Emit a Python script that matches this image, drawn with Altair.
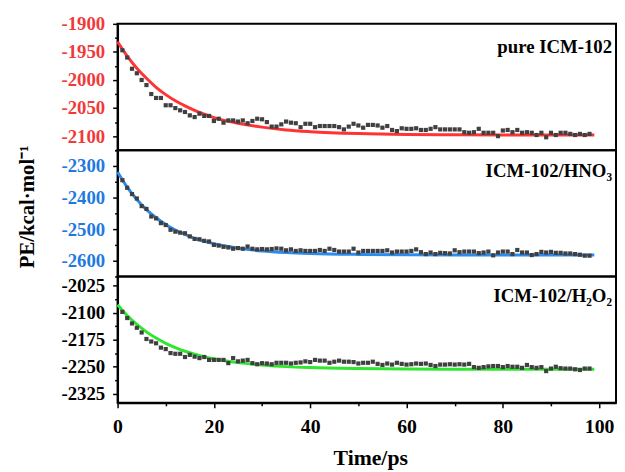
import altair as alt
import pandas as pd

# ---------------- data ----------------
time_ps = list(range(1, 99))

pe_pure = [-1947, -1960, -1980, -1988, -2000, -2009, -2025, -2032, -2032, -2045,
           -2045, -2050, -2054, -2057, -2063, -2066, -2060, -2064, -2064, -2073,
           -2069, -2076, -2072, -2072, -2074, -2072, -2077, -2073, -2069, -2070,
           -2075, -2083, -2083, -2079, -2074, -2076, -2077, -2084, -2078, -2078,
           -2084, -2082, -2082, -2082, -2082, -2084, -2088, -2083, -2078, -2081,
           -2085, -2080, -2080, -2081, -2085, -2082, -2089, -2091, -2086, -2087,
           -2087, -2086, -2089, -2089, -2087, -2084, -2088, -2088, -2088, -2088,
           -2088, -2093, -2094, -2093, -2087, -2094, -2094, -2094, -2100, -2090,
           -2089, -2093, -2089, -2094, -2093, -2094, -2098, -2094, -2102, -2094,
           -2098, -2094, -2094, -2096, -2098, -2096, -2098, -2096]

pe_hno3 = [-2345, -2369, -2389, -2403, -2427, -2436, -2460, -2466, -2481, -2487,
           -2502, -2508, -2511, -2513, -2523, -2531, -2532, -2537, -2539, -2550,
           -2552, -2556, -2558, -2562, -2560, -2562, -2555, -2562, -2564, -2563,
           -2564, -2563, -2561, -2562, -2567, -2564, -2569, -2567, -2569, -2569,
           -2569, -2566, -2569, -2562, -2566, -2571, -2571, -2571, -2562, -2574,
           -2569, -2569, -2569, -2569, -2569, -2567, -2574, -2571, -2571, -2571,
           -2569, -2564, -2573, -2579, -2574, -2579, -2575, -2576, -2577, -2567,
           -2573, -2571, -2571, -2571, -2576, -2574, -2571, -2583, -2574, -2571,
           -2571, -2579, -2566, -2574, -2574, -2582, -2579, -2572, -2574, -2572,
           -2575, -2575, -2577, -2577, -2579, -2581, -2584, -2584]

pe_h2o2 = [-2098, -2115, -2130, -2142, -2155, -2173, -2180, -2185, -2197, -2201,
           -2212, -2214, -2214, -2223, -2217, -2222, -2226, -2223, -2231, -2231,
           -2231, -2231, -2240, -2226, -2235, -2233, -2231, -2240, -2243, -2240,
           -2241, -2243, -2239, -2239, -2239, -2241, -2239, -2238, -2235, -2237,
           -2231, -2233, -2233, -2239, -2236, -2233, -2236, -2236, -2237, -2241,
           -2239, -2239, -2236, -2242, -2245, -2241, -2244, -2239, -2242, -2244,
           -2243, -2241, -2242, -2241, -2245, -2248, -2244, -2244, -2243, -2244,
           -2243, -2244, -2242, -2251, -2253, -2251, -2249, -2248, -2248, -2251,
           -2248, -2250, -2250, -2253, -2245, -2251, -2253, -2251, -2262, -2255,
           -2250, -2254, -2255, -2255, -2257, -2259, -2255, -2255]

fit_time = [0, 2, 4, 6, 8, 10, 12, 14, 16, 18, 20, 25, 30, 35, 40, 50, 60, 70, 80, 90, 99]
fit_pure = [-1932, -1957.5, -1979, -1997, -2013, -2026, -2037, -2046, -2054, -2061, -2067,
            -2077, -2084, -2089, -2092, -2095.4, -2097, -2097.5, -2097.8, -2098, -2098]
fit_hno3 = [-2319, -2367, -2406, -2438, -2464, -2485, -2503, -2517, -2529, -2538.5, -2546,
            -2560, -2569, -2574, -2577, -2580, -2581.3, -2581.8, -2582, -2582, -2582]
fit_h2o2 = [-2078, -2108, -2132.6, -2153.3, -2170.5, -2185, -2197, -2207, -2215, -2222, -2228,
            -2238.6, -2245, -2249.6, -2252.3, -2255, -2256.2, -2256.7, -2256.9, -2257, -2257]

panel_labels = ["pure ICM-102", "ICM-102/HNO\u2083", "ICM-102/H\u2082O\u2082"]

x_major = [0, 20, 40, 60, 80, 100]
x_minor = [10, 30, 50, 70, 90]

top_major = [-1900, -1950, -2000, -2050, -2100]
top_minor = [-1925, -1975, -2025, -2075, -2125]
mid_major = [-2300, -2400, -2500, -2600]
mid_minor = [-2250, -2350, -2450, -2550, -2650]
bot_major = [-2025, -2100, -2175, -2250, -2325]
bot_minor = [-2062.5, -2137.5, -2212.5, -2287.5]

# ---------------- style ----------------
FONT = "Liberation Serif"
W, H = 505, 128
XDOM = [0, 103.5]


def is_major(vals):
    return " || ".join(f"abs(datum.value - ({m})) < 0.01" for m in vals)


def make_panel(values, fits, label, line_color, label_color, ydom, major, minor,
               label_y, bottom=False, ytitle=None):
    pts = pd.DataFrame({"t": time_ps, "pe": values})
    fit = pd.DataFrame({"t": fit_time, "pe": fits})
    lab = pd.DataFrame({"label": [label]})
    test = is_major(major)
    ykw = dict(
        values=sorted(major + minor),
        labelExpr=f"({test}) ? '-' + abs(datum.value) : ''",
        tickSize={"condition": {"test": test, "value": 5}, "value": 3},
        labelColor=label_color, labelFontSize=19, labelFont=FONT,
        labelFontWeight="bold", labelPadding=8, domainColor="black",
        domainWidth=2, tickColor="black", tickWidth=1.5, grid=False,
        labelOverlap=False, labelBound=False, labelFlush=False,
    )
    if ytitle:
        ykw.update(title=ytitle, titleX=-91, titleY=57, titleAngle=270,
                   titleAlign="center", titleBaseline="middle", titleFontSize=21,
                   titleFont=FONT, titleFontWeight="bold", titleColor="black")
    else:
        ykw.update(title=None)
    y = alt.Y("pe:Q", scale=alt.Scale(domain=ydom, nice=False, zero=False),
              axis=alt.Axis(**ykw))
    if bottom:
        xtest = is_major(x_major)
        xaxis = alt.Axis(
            values=sorted(x_major + x_minor),
            labelExpr=f"({xtest}) ? datum.label : ''",
            tickSize={"condition": {"test": xtest, "value": 5}, "value": 3},
            labelColor="black", labelFontSize=20, labelFont=FONT,
            labelFontWeight="bold", labelPadding=9, domainColor="black",
            domainWidth=2, tickColor="black", tickWidth=1.5, grid=False,
            labelOverlap=False, labelBound=False, labelFlush=False,
            title="Time/ps", titleX=256, titleY=62, titleAlign="center",
            titleBaseline="alphabetic", titleFontSize=22, titleFont=FONT,
            titleFontWeight="bold", titleColor="black",
        )
    else:
        xaxis = None
    x = alt.X("t:Q", scale=alt.Scale(domain=XDOM, nice=False, zero=False), axis=xaxis)

    line = alt.Chart(fit).mark_line(color=line_color, strokeWidth=3,
                                    interpolate="monotone").encode(x=x, y=y)
    sq = alt.Chart(pts).mark_point(shape="square", filled=True, size=18,
                                   color="#404040", opacity=1).encode(x=x, y=y)
    txt = alt.Chart(lab).mark_text(align="right", baseline="alphabetic", font=FONT,
                                   fontSize=19, fontWeight="bold", color="black").encode(
        x=alt.value(501), y=alt.value(label_y), text="label:N")
    return alt.layer(line, sq, txt).properties(width=W, height=H)


top = make_panel(pe_pure, fit_pure, panel_labels[0], "#FF3333", "#F03A3A",
                 [-2125, -1900], top_major, top_minor, 30)
mid = make_panel(pe_hno3, fit_hno3, panel_labels[1], "#2A8CF0", "#1F7AE0",
                 [-2650, -2250], mid_major, mid_minor, 27,
                 ytitle="PE/kcal\u00b7mol\u207b\u00b9")
bot = make_panel(pe_h2o2, fit_h2o2, panel_labels[2], "#2EE62E", "black",
                 [-2350, -2000], bot_major, bot_minor, 26, bottom=True)

chart = (
    alt.vconcat(top, mid, bot, spacing=0, bounds="flush")
    .properties(padding={"left": 8, "top": 3, "right": 0, "bottom": 0},
                background="white")
    .configure_view(stroke="black", strokeWidth=2)
)

chart.save("out.html", embed_options={"renderer": "svg", "actions": False})
